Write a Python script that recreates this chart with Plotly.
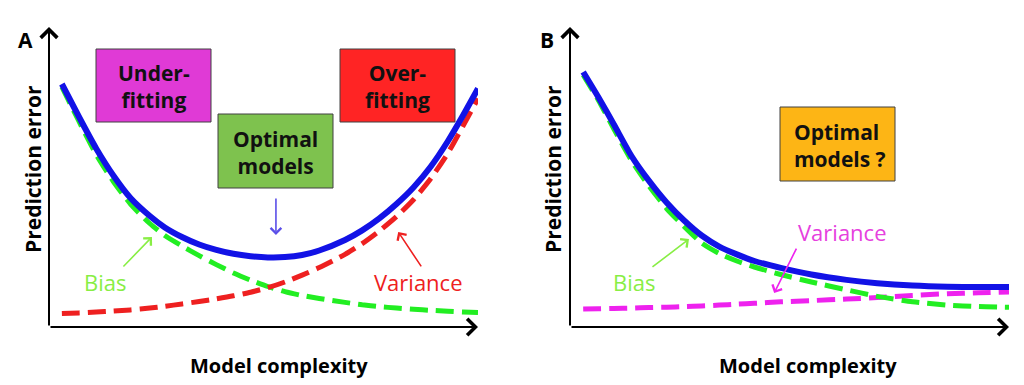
import plotly.graph_objects as go

# ---------------- data (arbitrary units 0..10) ----------------
# Panel A
x_a = [0.3, 0.7, 1.1, 1.5, 1.9, 2.35, 2.7, 3.1, 3.5, 3.9, 4.3, 4.7, 5.1, 5.5, 5.9, 6.3,
       6.9, 7.3, 7.7, 8.1, 8.5, 8.9, 9.3, 9.65, 10.0]
total_a = [8.1, 7.0, 5.95, 5.05, 4.3, 3.7, 3.32, 3.0, 2.75, 2.57, 2.44, 2.36, 2.32, 2.33,
           2.4, 2.55, 2.9, 3.22, 3.62, 4.1, 4.66, 5.35, 6.2, 7.05, 7.95]
bias_a = [8.0, 6.85, 5.75, 4.85, 4.1, 3.45, 3.05, 2.7, 2.38, 2.08, 1.8, 1.56, 1.35, 1.18,
          1.05, 0.95, 0.82, 0.74, 0.68, 0.63, 0.59, 0.555, 0.525, 0.5, 0.48]
variance_a = [0.45, 0.47, 0.5, 0.53, 0.57, 0.63, 0.69, 0.77, 0.85, 0.94, 1.04, 1.16, 1.31,
              1.5, 1.73, 1.98, 2.42, 2.78, 3.2, 3.68, 4.25, 4.95, 5.8, 6.7, 7.62]

# Panel B
x_b = [0.3, 0.65, 1.0, 1.4, 1.8, 2.2, 2.6, 3.0, 3.4, 3.8, 4.2, 4.8, 5.5, 6.3, 7.0, 7.8,
       8.6, 9.3, 10.0]
total_b = [8.5, 7.65, 6.75, 5.7, 4.87, 4.15, 3.55, 3.05, 2.68, 2.42, 2.2, 1.97, 1.75, 1.57,
           1.46, 1.38, 1.34, 1.33, 1.33]
bias_b = [8.4, 7.55, 6.6, 5.55, 4.7, 3.95, 3.35, 2.8, 2.45, 2.2, 2.0, 1.75, 1.5, 1.24,
          1.02, 0.84, 0.73, 0.68, 0.66]
variance_b = [0.6, 0.61, 0.62, 0.63, 0.65, 0.66, 0.68, 0.7, 0.73, 0.76, 0.79, 0.84, 0.88,
              0.93, 0.98, 1.05, 1.11, 1.14, 1.17]

panel_labels = ["A", "B"]
x_title = "Model complexity"
y_title = "Prediction error"

# ---------------- styling ----------------
W, H = 1024, 385
FONT = "Open Sans"
BLUE = "#1212E6"
GREEN = "#22EE22"
RED = "#EE2020"
MAGENTA = "#EE22EE"
BIAS_TXT = "#88EE44"
VAR_A_TXT = "#EE2020"
VAR_B_TXT = "#E640DE"
DASH = "18px,8px"


def px(x):
    return x / W


def py(y):
    return 1 - y / H


fig = go.Figure()


def line(x, y, color, dash, axis):
    fig.add_trace(go.Scatter(
        x=x, y=y, mode="lines", xaxis=axis[0], yaxis=axis[1],
        line=dict(color=color, width=6 if dash is None else 5, dash=dash or "solid",
                  shape="spline", smoothing=0.6),
        hoverinfo="skip", showlegend=False))


line(x_a, bias_a, GREEN, DASH, ("x", "y"))
line(x_a, variance_a, RED, DASH, ("x", "y"))
line(x_a, total_a, BLUE, None, ("x", "y"))

line(x_b, variance_b, MAGENTA, DASH, ("x2", "y2"))
line(x_b, bias_b, GREEN, DASH, ("x2", "y2"))
line(x_b, total_b, BLUE, None, ("x2", "y2"))

ax_common = dict(range=[0, 10], showgrid=False, zeroline=False, showticklabels=False,
                 ticks="", showline=False, fixedrange=True)
ydom = [58 / H, 358 / H]
fig.update_layout(
    width=W, height=H, margin=dict(l=0, r=0, t=0, b=0),
    paper_bgcolor="white", plot_bgcolor="white",
    xaxis=dict(domain=[49 / W, 478 / W], anchor="y", **ax_common),
    yaxis=dict(domain=ydom, anchor="x", **ax_common),
    xaxis2=dict(domain=[570 / W, 1009 / W], anchor="y2", **ax_common),
    yaxis2=dict(domain=ydom, anchor="x2", **ax_common),
    showlegend=False,
)

ann = []
shapes = []

# axis arrows
for xr, yr in (("x", "y"), ("x2", "y2")):
    ann.append(dict(x=0, y=10, ax=0, ay=0, xref=xr, yref=yr, axref=xr, ayref=yr,
                    showarrow=True, arrowhead=4, arrowsize=1.6, arrowwidth=2,
                    arrowcolor="black", text=""))
    ann.append(dict(x=10, y=0, ax=0, ay=0, xref=xr, yref=yr, axref=xr, ayref=yr,
                    showarrow=True, arrowhead=4, arrowsize=1.6, arrowwidth=2,
                    arrowcolor="black", text=""))


def txt(cx, cy, text, size, color, bold=False, angle=0, xanchor="center", align="center"):
    f = dict(family=FONT, size=size, color=color)
    if bold:
        f["weight"] = "bold"
    ann.append(dict(x=px(cx), y=py(cy), xref="paper", yref="paper", text=text,
                    showarrow=False, xanchor=xanchor, yanchor="middle", align=align,
                    textangle=angle, font=f))


# axis titles and panel labels
for cx in (279, 808):
    txt(cx, 365, x_title, 20, "black", bold=True)
for cx in (33, 553):
    txt(cx, 169, y_title, 21, "black", bold=True, angle=-90)
for (cx, cy), lab in zip(((25, 40), (547, 40)), panel_labels):
    txt(cx, cy, lab, 21, "black", bold=True)

# boxes
boxes = [
    ((96, 49, 211, 122), "#E03AD6", "Under-<br>fitting", "center"),
    ((218, 114, 333, 188), "#7EC24E", "Optimal<br>models", "center"),
    ((340, 49, 455, 122), "#FF2424", "Over-<br>fitting", "center"),
    ((780, 107, 895, 181), "#FDB515", "Optimal<br>models ?", "left"),
]
for (x0, y0, x1, y1), col, t, al in boxes:
    shapes.append(dict(type="rect", xref="paper", yref="paper", x0=px(x0), x1=px(x1),
                       y0=py(y1), y1=py(y0), fillcolor=col,
                       line=dict(color="#404040", width=1), layer="above"))
    if al == "center":
        txt((x0 + x1) / 2, (y0 + y1) / 2 + 1, t, 21, "#111111", bold=True)
    else:
        txt(x0 + 12, (y0 + y1) / 2 + 1, t, 21, "#111111", bold=True,
            xanchor="left", align="left")

# pointer arrows (head in data units, tail offset in pixels)
arrows = [
    ("x", "y", 5.29, 3.07, 0, -38, "#5B4FE8"),
    ("x", "y", 2.4, 3.0, -30, 31, BIAS_TXT),
    ("x", "y", 8.14, 3.17, 24, 36, RED),
    ("x2", "y2", 2.71, 2.93, -38, 29, BIAS_TXT),
    ("x2", "y2", 4.65, 1.13, 23, -46, MAGENTA),
]
for xr, yr, hx, hy, axp, ayp, col in arrows:
    ann.append(dict(x=hx, y=hy, xref=xr, yref=yr, ax=axp, ay=ayp, showarrow=True,
                    arrowhead=4, arrowsize=1.3, arrowwidth=1.6, arrowcolor=col, text=""))

# text labels
for cx, cy, t, col in [(105, 282, "Bias", BIAS_TXT), (418, 282, "Variance", VAR_A_TXT),
                       (634, 282, "Bias", BIAS_TXT), (842, 232, "Variance", VAR_B_TXT)]:
    txt(cx, cy, t, 22, col)

fig.update_layout(annotations=ann, shapes=shapes)
fig.write_html("out.html", config={"displayModeBar": False},
               post_script="document.body.style.margin='0';")
